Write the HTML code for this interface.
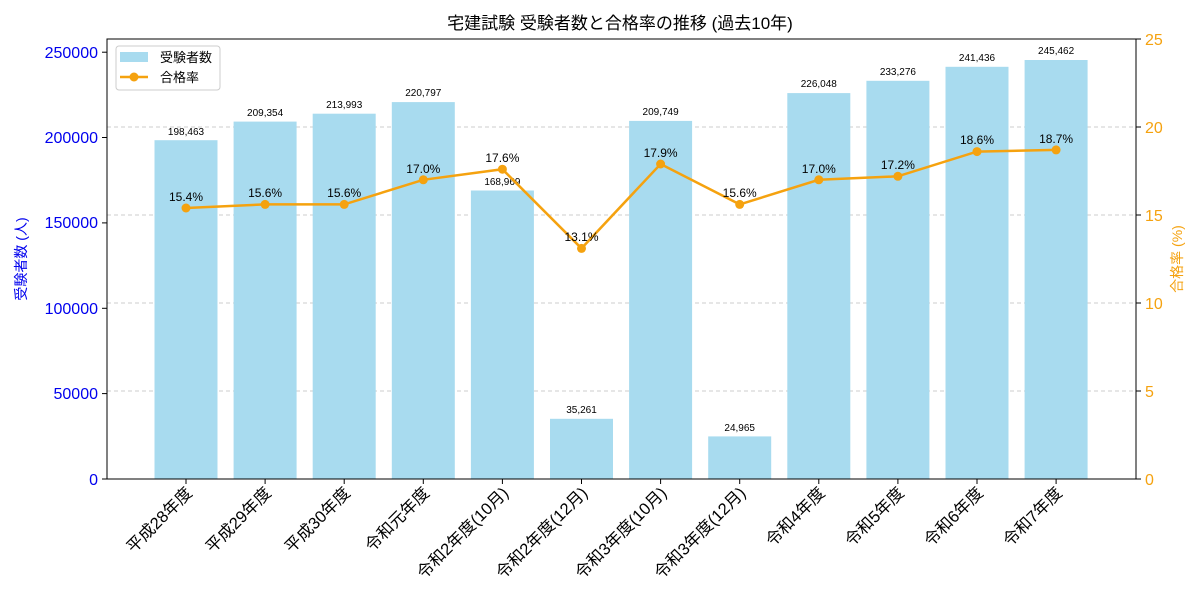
<!DOCTYPE html>
<html><head><meta charset="utf-8"><style>
html,body{margin:0;padding:0;background:#fff;}
svg{display:block;font-family:"Liberation Sans","Noto Sans CJK JP",sans-serif;}
</style></head><body>
<svg width="1200" height="600" viewBox="0 0 1200 600">
<text x="620" y="29" font-size="17" text-anchor="middle" fill="#000">宅建試験 受験者数と合格率の推移 (過去10年)</text>
<g stroke="#ccc" stroke-dasharray="4,3" stroke-width="1">
<line x1="107" x2="1136" y1="391" y2="391"/><line x1="107" x2="1136" y1="303" y2="303"/>
<line x1="107" x2="1136" y1="215" y2="215"/><line x1="107" x2="1136" y1="127" y2="127"/>
</g>
<g fill="#a8dbef">
<rect x="154.5" y="140.2" width="63" height="338.8"/>
<rect x="233.6" y="121.6" width="63" height="357.4"/>
<rect x="312.7" y="113.7" width="63" height="365.3"/>
<rect x="391.8" y="102.1" width="63" height="376.9"/>
<rect x="470.9" y="190.5" width="63" height="288.5"/>
<rect x="550" y="418.8" width="63" height="60.2"/>
<rect x="629.1" y="120.9" width="63" height="358.1"/>
<rect x="708.2" y="436.4" width="63" height="42.6"/>
<rect x="787.3" y="93.1" width="63" height="385.9"/>
<rect x="866.4" y="80.8" width="63" height="398.2"/>
<rect x="945.5" y="66.8" width="63" height="412.2"/>
<rect x="1024.6" y="60" width="63" height="419"/>
</g>
<g font-size="10" text-anchor="middle" fill="#000">
<text x="186" y="135">198,463</text><text x="265.1" y="116">209,354</text>
<text x="344.2" y="108">213,993</text><text x="423.3" y="96">220,797</text>
<text x="502.4" y="185">168,969</text><text x="581.5" y="413">35,261</text>
<text x="660.6" y="115">209,749</text><text x="739.7" y="431">24,965</text>
<text x="818.8" y="87">226,048</text><text x="897.9" y="75">233,276</text>
<text x="977" y="61">241,436</text><text x="1056.1" y="54">245,462</text>
</g>
<polyline fill="none" stroke="#f5a20f" stroke-width="2.5" points="186,208 265.1,204.4 344.2,204.4 423.3,179.8 502.4,169.2 581.5,248.4 660.6,164 739.7,204.4 818.8,179.8 897.9,176.3 977,151.6 1056.1,149.9"/>
<g fill="#f5a20f">
<circle cx="186" cy="208" r="4.5"/><circle cx="265.1" cy="204.4" r="4.5"/><circle cx="344.2" cy="204.4" r="4.5"/>
<circle cx="423.3" cy="179.8" r="4.5"/><circle cx="502.4" cy="169.2" r="4.5"/><circle cx="581.5" cy="248.4" r="4.5"/>
<circle cx="660.6" cy="164" r="4.5"/><circle cx="739.7" cy="204.4" r="4.5"/><circle cx="818.8" cy="179.8" r="4.5"/>
<circle cx="897.9" cy="176.3" r="4.5"/><circle cx="977" cy="151.6" r="4.5"/><circle cx="1056.1" cy="149.9" r="4.5"/>
</g>
<g font-size="12" text-anchor="middle" fill="#000">
<text x="186" y="201">15.4%</text><text x="265.1" y="197">15.6%</text><text x="344.2" y="197">15.6%</text>
<text x="423.3" y="173">17.0%</text><text x="502.4" y="162">17.6%</text><text x="581.5" y="241">13.1%</text>
<text x="660.6" y="157">17.9%</text><text x="739.7" y="197">15.6%</text><text x="818.8" y="173">17.0%</text>
<text x="897.9" y="169">17.2%</text><text x="977" y="144">18.6%</text><text x="1056.1" y="143">18.7%</text>
</g>
<rect x="107" y="39" width="1029" height="440" fill="none" stroke="#000" stroke-width="1"/>
<g stroke="#000"><g>
<line x1="102" x2="107" y1="479" y2="479"/><line x1="102" x2="107" y1="393.6" y2="393.6"/>
<line x1="102" x2="107" y1="308.3" y2="308.3"/><line x1="102" x2="107" y1="222.9" y2="222.9"/>
<line x1="102" x2="107" y1="137.5" y2="137.5"/><line x1="102" x2="107" y1="52.2" y2="52.2"/>
</g><g>
<line x1="1136" x2="1141" y1="479" y2="479"/><line x1="1136" x2="1141" y1="391" y2="391"/>
<line x1="1136" x2="1141" y1="303" y2="303"/><line x1="1136" x2="1141" y1="215" y2="215"/>
<line x1="1136" x2="1141" y1="127" y2="127"/><line x1="1136" x2="1141" y1="39" y2="39"/>
</g>
<line x1="186" x2="186" y1="479" y2="484"/><line x1="265.1" x2="265.1" y1="479" y2="484"/>
<line x1="344.2" x2="344.2" y1="479" y2="484"/><line x1="423.3" x2="423.3" y1="479" y2="484"/>
<line x1="502.4" x2="502.4" y1="479" y2="484"/><line x1="581.5" x2="581.5" y1="479" y2="484"/>
<line x1="660.6" x2="660.6" y1="479" y2="484"/><line x1="739.7" x2="739.7" y1="479" y2="484"/>
<line x1="818.8" x2="818.8" y1="479" y2="484"/><line x1="897.9" x2="897.9" y1="479" y2="484"/>
<line x1="977" x2="977" y1="479" y2="484"/><line x1="1056.1" x2="1056.1" y1="479" y2="484"/>
</g>
<g font-size="16" text-anchor="end" fill="#0000ee">
<text x="98" y="485">0</text><text x="98" y="399">50000</text><text x="98" y="314">100000</text>
<text x="98" y="228">150000</text><text x="98" y="143">200000</text><text x="98" y="58">250000</text>
</g>
<g font-size="16" fill="#f5a20f">
<text x="1145" y="485">0</text><text x="1145" y="397">5</text><text x="1145" y="309">10</text>
<text x="1145" y="221">15</text><text x="1145" y="133">20</text><text x="1145" y="45">25</text>
</g>
<text transform="translate(26,259) rotate(-90)" font-size="14" fill="#0000ee" text-anchor="middle">受験者数 (人)</text>
<text transform="translate(1182,259) rotate(-90)" font-size="14" fill="#f5a20f" text-anchor="middle">合格率 (%)</text>
<g font-size="16.5" text-anchor="end" fill="#000">
<text transform="translate(193,494) rotate(-45)">平成28年度</text>
<text transform="translate(272.1,494) rotate(-45)">平成29年度</text>
<text transform="translate(351.2,494) rotate(-45)">平成30年度</text>
<text transform="translate(430.3,494) rotate(-45)">令和元年度</text>
<text transform="translate(509.4,494) rotate(-45)">令和2年度(10月)</text>
<text transform="translate(588.5,494) rotate(-45)">令和2年度(12月)</text>
<text transform="translate(667.6,494) rotate(-45)">令和3年度(10月)</text>
<text transform="translate(746.7,494) rotate(-45)">令和3年度(12月)</text>
<text transform="translate(825.8,494) rotate(-45)">令和4年度</text>
<text transform="translate(904.9,494) rotate(-45)">令和5年度</text>
<text transform="translate(984,494) rotate(-45)">令和6年度</text>
<text transform="translate(1063.1,494) rotate(-45)">令和7年度</text>
</g>
<rect x="116" y="46" width="104" height="44" rx="3" fill="#fff" fill-opacity="0.85" stroke="#ccc"/>
<rect x="120" y="52" width="28" height="10" fill="#a8dbef"/>
<text x="160" y="62" font-size="13" fill="#000">受験者数</text>
<line x1="120" x2="148" y1="77" y2="77" stroke="#f5a20f" stroke-width="2.5"/>
<circle cx="134" cy="77" r="4.5" fill="#f5a20f"/>
<text x="160" y="82" font-size="13" fill="#000">合格率</text>
</svg>
</body></html>
